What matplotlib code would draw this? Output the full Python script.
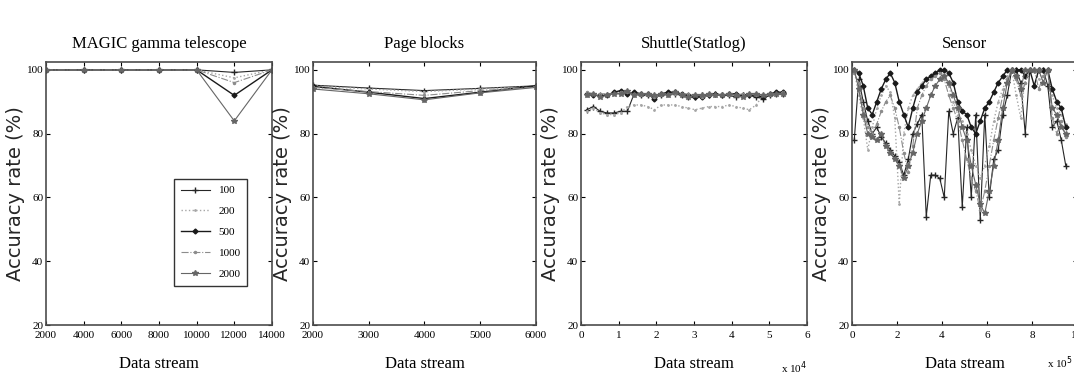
import matplotlib
matplotlib.use("Agg")
import matplotlib.pyplot as plt

# --- data ---------------------------------------------------------------
window_sizes = ["100", "200", "500", "1000", "2000"]

magic_x = [2000, 4000, 6000, 8000, 10000, 12000, 14000]
magic_100 = [100, 100, 100, 100, 100, 99.2, 100]
magic_200 = [100, 100, 100, 100, 100, 97.5, 100]
magic_500 = [100, 100, 100, 100, 100, 92.0, 100]
magic_1000 = [100, 100, 100, 100, 100, 96.0, 100]
magic_2000 = [100, 100, 100, 100, 100, 84.0, 100]

page_x = [2000, 3000, 4000, 5000, 6000]
page_100 = [95.2, 94.3, 93.5, 94.2, 95.0]
page_200 = [95.0, 94.0, 93.2, 94.0, 94.8]
page_500 = [94.8, 93.0, 91.0, 93.0, 95.0]
page_1000 = [94.5, 93.2, 92.0, 93.5, 94.6]
page_2000 = [94.0, 92.5, 90.6, 92.8, 94.5]

shuttle_x = [1500, 3300, 5100, 6900, 8700, 10500, 12300, 14100, 15900, 17700,
             19500, 21300, 23100, 24900, 26700, 28500, 30300, 32100, 33900, 35700,
             37500, 39300, 41100, 42900, 44700, 46500, 48300, 50100, 51900, 53700]
shuttle_100 = [87.5, 88.5, 87.0, 86.5, 86.5, 87.0, 87.0, 92.5, 92.0, 92.0,
               91.5, 92.0, 92.5, 92.5, 92.0, 91.5, 91.5, 92.0, 92.0, 92.5,
               92.0, 92.0, 91.5, 92.0, 92.0, 91.5, 91.0, 92.0, 92.5, 92.5]
shuttle_200 = [87.0, 88.0, 86.5, 86.0, 86.0, 86.5, 88.5, 89.0, 89.0, 88.5,
               87.5, 89.0, 89.0, 89.0, 88.5, 88.0, 87.5, 88.0, 88.5, 88.5,
               88.5, 89.0, 88.5, 88.0, 87.5, 89.0, 92.0, 92.5, 93.0, 92.5]
shuttle_500 = [92.5, 92.0, 92.0, 92.0, 93.0, 93.5, 92.5, 93.0, 92.5, 92.5,
               91.0, 92.5, 93.0, 93.0, 92.5, 92.0, 91.5, 91.5, 92.0, 92.5,
               92.0, 92.5, 92.5, 92.0, 92.0, 92.0, 91.5, 92.5, 93.0, 93.0]
shuttle_1000 = [93.0, 92.5, 92.5, 92.5, 92.5, 93.0, 93.0, 92.5, 92.0, 92.0,
                91.5, 92.0, 92.5, 92.5, 92.5, 92.5, 92.0, 91.5, 92.0, 92.0,
                92.5, 92.0, 92.0, 92.5, 92.5, 92.0, 92.0, 92.0, 92.5, 93.0]
shuttle_2000 = [92.0, 92.5, 91.5, 92.0, 92.5, 92.5, 93.5, 92.0, 92.5, 92.5,
                92.0, 92.5, 92.0, 93.0, 92.0, 91.5, 92.0, 92.0, 92.5, 92.0,
                92.0, 92.5, 92.0, 91.5, 92.5, 92.5, 92.0, 92.5, 92.5, 92.5]

sensor_x = [0.1, 0.3, 0.5, 0.7, 0.9, 1.1, 1.3, 1.5, 1.7, 1.9,
            2.1, 2.3, 2.5, 2.7, 2.9, 3.1, 3.3, 3.5, 3.7, 3.9,
            4.1, 4.3, 4.5, 4.7, 4.9, 5.1, 5.3, 5.5, 5.7, 5.9,
            6.1, 6.3, 6.5, 6.7, 6.9, 7.1, 7.3, 7.5, 7.7, 7.9,
            8.1, 8.3, 8.5, 8.7, 8.9, 9.1, 9.3, 9.5]
sensor_100 = [78, 97, 90, 84, 80, 82, 79, 77, 75, 73,
              71, 67, 72, 80, 83, 86, 54, 67, 67, 66,
              60, 87, 80, 85, 57, 82, 60, 86, 53, 86,
              60, 72, 75, 86, 92, 100, 100, 96, 80, 100,
              100, 100, 100, 95, 82, 84, 78, 70]
sensor_200 = [100, 92, 85, 75, 82, 88, 92, 95, 93, 85,
              58, 80, 88, 92, 94, 96, 97, 98, 99, 100,
              98, 95, 90, 86, 84, 80, 75, 70, 66, 70,
              76, 84, 90, 94, 98, 100, 92, 85, 98, 100,
              100, 97, 100, 100, 92, 88, 86, 83]
sensor_500 = [100, 99, 95, 88, 86, 90, 94, 97, 99, 96,
              90, 86, 82, 88, 93, 95, 97, 98, 99, 100,
              100, 99, 96, 90, 87, 86, 82, 80, 84, 88,
              90, 93, 96, 98, 100, 100, 100, 100, 98, 100,
              95, 100, 100, 100, 94, 90, 88, 82]
sensor_1000 = [99, 96, 88, 82, 80, 83, 87, 90, 92, 88,
               82, 74, 68, 76, 88, 92, 95, 97, 98, 99,
               97, 92, 88, 84, 78, 72, 66, 62, 56, 62,
               70, 78, 85, 92, 97, 100, 97, 92, 96, 100,
               100, 94, 98, 100, 85, 80, 84, 79]
sensor_2000 = [100, 94, 86, 80, 79, 78, 80, 76, 74, 72,
               70, 66, 70, 74, 80, 84, 88, 92, 95, 97,
               98, 96, 92, 88, 82, 78, 70, 64, 58, 55,
               62, 70, 78, 88, 96, 100, 98, 94, 100, 100,
               100, 100, 96, 100, 88, 86, 82, 80]

# line look for each window size (MATLAB-ish grey scale)
styles = {
    "100": dict(color="0.15", ls="-", marker="+", ms=5, lw=0.8),
    "200": dict(color="0.65", ls=":", marker=".", ms=2, lw=1.0),
    "500": dict(color="0.1", ls="-", marker="D", ms=2.5, lw=1.0),
    "1000": dict(color="0.55", ls="-.", marker=".", ms=3, lw=0.8),
    "2000": dict(color="0.4", ls="-", marker="*", ms=4, lw=0.8),
}

panels = [
    ("MAGIC gamma telescope", magic_x,
     [magic_100, magic_200, magic_500, magic_1000, magic_2000]),
    ("Page blocks", page_x,
     [page_100, page_200, page_500, page_1000, page_2000]),
    ("Shuttle(Statlog)", shuttle_x,
     [shuttle_100, shuttle_200, shuttle_500, shuttle_1000, shuttle_2000]),
    ("Sensor", sensor_x,
     [sensor_100, sensor_200, sensor_500, sensor_1000, sensor_2000]),
]

serif = "Liberation Serif"

fig = plt.figure(figsize=(10.74, 3.82), dpi=100)
positions = [
    [0.0428, 0.149, 0.2104, 0.689],
    [0.2914, 0.149, 0.2076, 0.689],
    [0.5410, 0.149, 0.2104, 0.689],
    [0.7933, 0.149, 0.2095, 0.689],
]

axes = []
for pos, (title, xs, series) in zip(positions, panels):
    ax = fig.add_axes(pos)
    for name, ys in zip(window_sizes, series):
        ax.plot(xs, ys, label=name, **styles[name])
    ax.set_title(title, fontsize=12, family=serif, pad=10)
    ax.set_xlabel("Data stream", fontsize=12, family=serif, labelpad=12)
    ax.set_ylabel("Accuracy rate (%)", fontsize=14, family="DejaVu Sans",
                  color="0.15", labelpad=1)
    ax.set_ylim(20, 102.5)
    ax.set_yticks([20, 40, 60, 80, 100])
    ax.tick_params(direction="in", top=True, right=True, length=3,
                   labelsize=8, pad=2)
    for lab in ax.get_yticklabels():
        lab.set_family(serif)
    for sp in ax.spines.values():
        sp.set_color("0.3")
        sp.set_linewidth(1.2)
    axes.append(ax)

axes[0].set_xlim(2000, 14000)
axes[0].set_xticks(range(2000, 14001, 2000))
axes[1].set_xlim(2000, 6000)
axes[1].set_xticks(range(2000, 6001, 1000))
axes[2].set_xlim(0, 60000)
axes[2].set_xticks(range(0, 60001, 10000))
axes[2].set_xticklabels([str(i) for i in range(7)])
axes[3].set_xlim(0, 10)
axes[3].set_xticks(range(0, 11, 2))
for ax in axes:
    ax.tick_params(axis="x", pad=4)
    for lab in ax.get_xticklabels():
        lab.set_family(serif)
        lab.set_fontsize(8)

axes[2].text(1.0, -0.13, r"x 10$^4$", transform=axes[2].transAxes,
             fontsize=8, family=serif, ha="right", va="top")
fig.text(0.999, 0.03, r"x 10$^5$", fontsize=8, family=serif,
         ha="right", va="bottom")

leg = axes[0].legend(loc="upper right", bbox_to_anchor=(0.916, 0.576),
                     fontsize=8, fancybox=False, edgecolor="0.2",
                     labelspacing=1.0, handlelength=2.6, borderpad=0.6,
                     framealpha=1)
for t in leg.get_texts():
    t.set_family(serif)
leg.get_frame().set_linewidth(1.0)

fig.savefig("out.png", dpi=100)
